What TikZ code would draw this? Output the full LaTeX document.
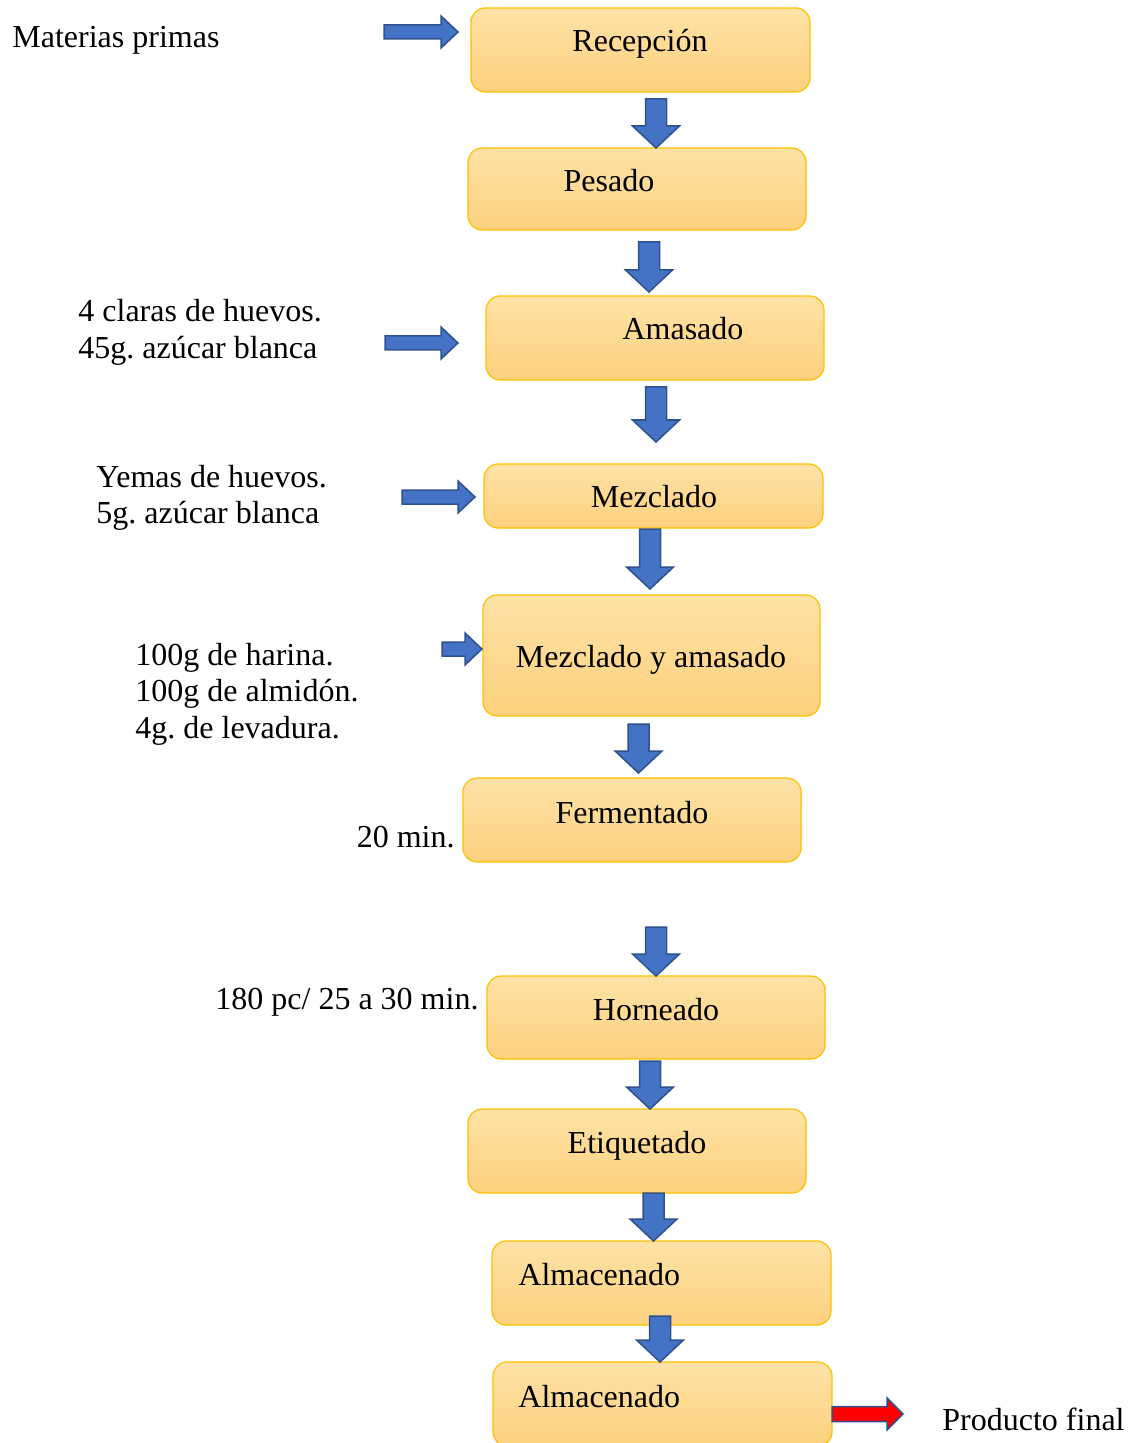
\documentclass[tikz,border=0pt]{standalone}
\usepackage{fontspec}
\setmainfont{Liberation Serif}
\frenchspacing
\definecolor{boxtop}{HTML}{FEE2A6}
\definecolor{boxbot}{HTML}{FDD17E}
\definecolor{boxline}{HTML}{FFC000}
\definecolor{arrfill}{HTML}{4472C4}
\definecolor{arrline}{HTML}{2F528F}
\tikzset{
  stepbox/.style={rectangle, rounded corners=7pt, draw=boxline, line width=0.6pt,
    top color=boxtop, bottom color=boxbot, inner sep=0pt},
  txt/.style={font=\fontsize{16}{18.4}\selectfont, inner sep=0pt},
  blk/.style={fill=arrfill, draw=arrline, line width=0.75pt, line join=miter},
  pics/downblk/.style={code={
    \path[blk] (-10.5,0) -- (10.5,0) -- (10.5,#1-22) -- (23.5,#1-22) -- (0,#1)
      -- (-23.5,#1-22) -- (-10.5,#1-22) -- cycle;}},
  pics/rightblk/.style={code={
    \path[blk] (-#1,-7) -- (-17,-7) -- (-17,-16) -- (0,0) -- (-17,16)
      -- (-17,7) -- (-#1,7) -- cycle;}},
  pics/rightred/.style={code={
    \path[blk, fill=red] (-#1,-7.5) -- (-16,-7.5) -- (-16,-16) -- (0,0) -- (-16,16)
      -- (-16,7.5) -- (-#1,7.5) -- cycle;}},
}
\begin{document}
\begin{tikzpicture}[x=0.5pt, y=-0.5pt]
\useasboundingbox (0,0) rectangle (1133,1443);

% process steps
\node[stepbox, minimum width=169.5pt, minimum height=42pt]   (b1)  at (640.5,50)    {};
\node[stepbox, minimum width=169pt,   minimum height=41pt]   (b2)  at (637,189)     {};
\node[stepbox, minimum width=169pt,   minimum height=42pt]   (b3)  at (655,338)     {};
\node[stepbox, minimum width=169.5pt, minimum height=32pt]   (b4)  at (653.5,496)   {};
\node[stepbox, minimum width=168.5pt, minimum height=60.5pt] (b5)  at (651.5,655.5) {};
\node[stepbox, minimum width=169pt,   minimum height=42pt]   (b6)  at (632,820)     {};
\node[stepbox, minimum width=169pt,   minimum height=41.5pt] (b7)  at (656,1017.5)  {};
\node[stepbox, minimum width=169pt,   minimum height=42pt]   (b8)  at (637,1151)    {};
\node[stepbox, minimum width=169.5pt, minimum height=42pt]   (b9)  at (661.5,1283)  {};
\node[stepbox, minimum width=169.5pt, minimum height=42pt]   (b10) at (662.5,1404)  {};

% step names
\node[txt, anchor=base] (t1) at (640,52)   {Recepción};
\node[txt, anchor=base] (t2) at (609,192)  {Pesado};
\node[txt, anchor=base] (t3) at (683,340)  {Amasado};
\node[txt, anchor=base] (t4) at (654,507)  {Mezclado};
\node[txt, anchor=base] (t5) at (651,667)  {Mezclado y amasado};
\node[txt, anchor=base] (t6) at (632,823)  {Fermentado};
\node[txt, anchor=base] (t7) at (656,1020) {Horneado};
\node[txt, anchor=base] (t8) at (637,1153) {Etiquetado};
\node[txt, anchor=base west] (t9)  at (518,1285) {Almacenado};
\node[txt, anchor=base west] (t10) at (518,1407) {Almacenado};

% inputs and conditions
\node[txt, anchor=base west] (m1) at (12,48) {Materias primas};
\node[txt, anchor=base west] (m2) at (78,322) {4 claras de huevos.};
\node[txt, anchor=base west] (m2b) at (78,359) {45g. azúcar blanca};
\node[txt, anchor=base west] (m3) at (96,487) {Yemas de huevos.};
\node[txt, anchor=base west] (m3b) at (96,523) {5g. azúcar blanca};
\node[txt, anchor=base west] (m4) at (135,665) {100g de harina.};
\node[txt, anchor=base west] (m4b) at (135,701) {100g de almidón.};
\node[txt, anchor=base west] (m4c) at (135,738) {4g. de levadura.};
\node[txt, anchor=base east] (m5) at (455,847) {20 min.};
\node[txt, anchor=base west] (m6) at (215,1009) {180 pc/ 25 a 30 min.};
\node[txt, anchor=base west] (m7) at (942,1430) {Producto final};

% flow arrows between steps
\pic at (656,99)    {downblk=49};
\pic at (649,242)   {downblk=50};
\pic at (656,387)   {downblk=55};
\pic at (650,529)   {downblk=60};
\pic at (638.5,724) {downblk=49};
\pic at (656,927)   {downblk=49};
\pic at (650,1061)  {downblk=48};
\pic at (653.5,1193){downblk=48};
\pic at (660,1316)  {downblk=46};

% input arrows
\pic at (458,32)  {rightblk=74};
\pic at (458,343) {rightblk=73};
\pic at (475,497) {rightblk=73};
\pic at (482,649) {rightblk=40};
\pic at (903,1414) {rightred=71};
\end{tikzpicture}
\end{document}
